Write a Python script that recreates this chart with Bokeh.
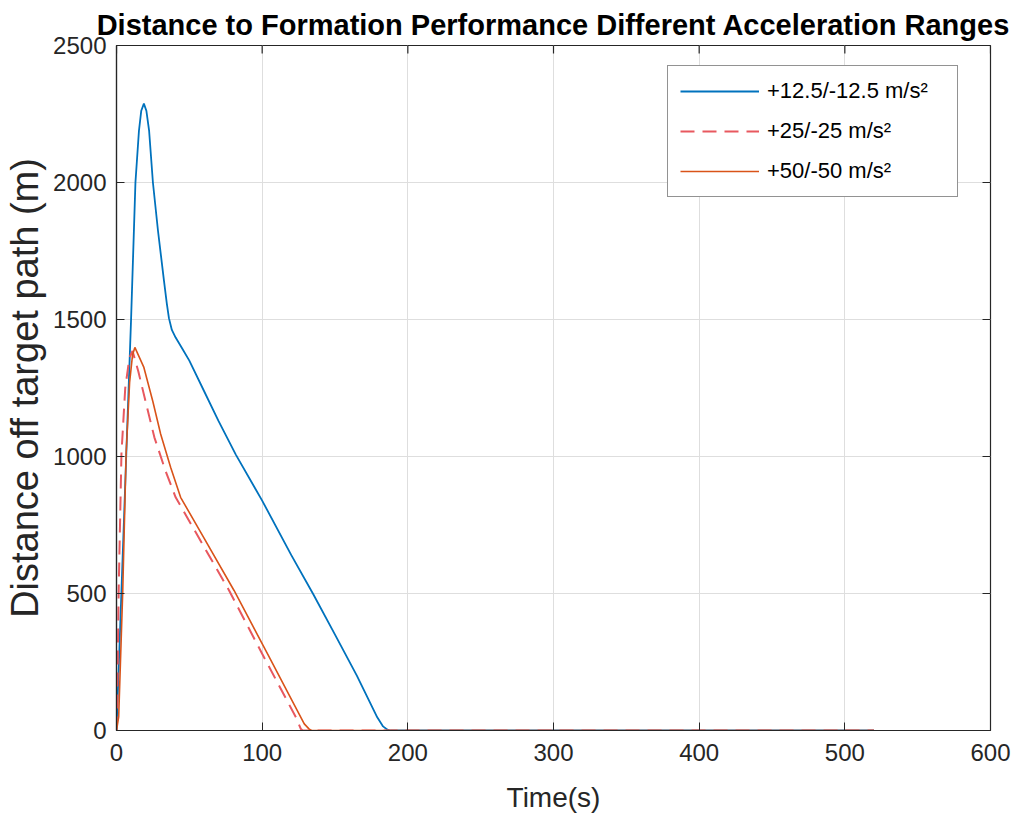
import math
from bokeh.plotting import figure
from bokeh.models import FixedTicker, Legend, LegendItem
from bokeh.embed import file_html
from bokeh.resources import INLINE

# ---- data ----
t_a125 = [0, 4, 8.5, 10, 13, 15.4, 17, 18.8, 20.5, 22.4, 25, 28.5, 32.6, 34.5, 36, 38, 40.6,
          45, 50, 60, 70, 82, 100, 120, 135, 150, 165, 179, 183, 186, 188, 520]
d_a125 = [0, 600, 1276, 1500, 2000, 2188, 2262, 2288, 2262, 2188, 2000, 1823, 1641, 1560, 1505, 1462, 1434,
          1395, 1350, 1240, 1130, 1006, 839, 640, 498, 350, 200, 48, 15, 3, 0, 0]

t_a25 = [0, 0.6, 1.5, 3.4, 6, 8.9, 11, 15, 20, 26, 33.5, 40.6, 50, 60, 77.3, 100, 123.2, 126.6, 128, 520]
d_a25 = [0, 150, 511, 1010, 1250, 1361, 1385, 1310, 1200, 1070, 950, 851, 764, 671, 511, 280, 48, 5, 0, 0]

t_a50 = [0, 1.5, 4.3, 6.6, 9, 11, 12.6, 18.8, 25, 30.3, 37.2, 44, 60, 80.7, 103.7, 128.9, 132.3, 134, 520]
d_a50 = [0, 50, 511, 1010, 1270, 1370, 1398, 1325, 1200, 1082, 960, 851, 703, 511, 280, 24, 5, 0, 0]

labels = ["+12.5/-12.5 m/s\u00b2", "+25/-25 m/s\u00b2", "+50/-50 m/s\u00b2"]
x_ticks = [0, 100, 200, 300, 400, 500, 600]
y_ticks = [0, 500, 1000, 1500, 2000, 2500]

title_text = "Distance to Formation Performance Different Acceleration Ranges"
x_label = "Time(s)"
y_label = "Distance off target path (m)"

FONT = "Liberation Sans"
AX = "#262626"

p = figure(frame_width=874, frame_height=685,
           x_range=(x_ticks[0], x_ticks[-1]), y_range=(y_ticks[0], y_ticks[-1]),
           min_border_left=116, min_border_right=29,
           min_border_top=45, min_border_bottom=87,
           output_backend="svg", toolbar_location=None,
           title=title_text)

p.title.text_font = FONT
p.title.text_font_size = "29px"
p.title.text_font_style = "bold"
p.title.text_color = "#000000"
p.title.align = "center"
p.title.vertical_align = "top"
p.title.standoff = 6

p.background_fill_color = "white"
p.border_fill_color = "white"
p.outline_line_color = AX
p.outline_line_width = 1.2

for ax, lab in ((p.xaxis[0], x_label), (p.yaxis[0], y_label)):
    ax.axis_label = lab
    ax.axis_label_text_font = FONT
    ax.axis_label_text_font_style = "normal"
    ax.axis_label_text_color = AX
    ax.major_label_text_font = FONT
    ax.major_label_text_font_size = "24px"
    ax.major_label_text_color = AX
    ax.axis_line_color = AX
    ax.axis_line_width = 1.2
    ax.major_tick_in = 8
    ax.major_tick_out = 0
    ax.major_tick_line_color = AX
    ax.minor_tick_line_color = None

p.xaxis[0].axis_label_text_font_size = "28px"
p.yaxis[0].axis_label_text_font_size = "38px"
p.xaxis[0].ticker = FixedTicker(ticks=x_ticks)
p.yaxis[0].ticker = FixedTicker(ticks=y_ticks)
p.xaxis[0].major_label_standoff = 13
p.yaxis[0].major_label_standoff = 10
p.xaxis[0].axis_label_standoff = 18
p.yaxis[0].axis_label_standoff = 4

# inward ticks on the top and right edges of the box (MATLAB "box on")
p.ray(x=x_ticks, y=[y_ticks[-1]] * len(x_ticks), length=8, length_units="screen",
      angle=-math.pi / 2, line_color=AX, line_width=1.2)
p.ray(x=[x_ticks[-1]] * len(y_ticks), y=y_ticks, length=8, length_units="screen",
      angle=math.pi, line_color=AX, line_width=1.2)

p.xgrid.ticker = FixedTicker(ticks=x_ticks)
p.ygrid.ticker = FixedTicker(ticks=y_ticks)
p.grid.grid_line_color = "#dedede"
p.grid.grid_line_width = 1

r1 = p.line(t_a125, d_a125, line_color="#0072BD", line_width=1.8)
r2 = p.line(t_a25, d_a25, line_color="#E8585F", line_width=2.0, line_dash="14 8")
r3 = p.line(t_a50, d_a50, line_color="#D95319", line_width=1.6)

legend = Legend(items=[LegendItem(label=labels[0], renderers=[r1]),
                       LegendItem(label=labels[1], renderers=[r2]),
                       LegendItem(label=labels[2], renderers=[r3])],
                location=(551, 533))
legend.margin = 0
legend.padding = 12
legend.spacing = 14
legend.glyph_width = 79
legend.glyph_height = 26
legend.label_height = 26
legend.label_width = 178
legend.label_standoff = 8
legend.label_text_font = FONT
legend.label_text_font_size = "22px"
legend.label_text_color = "#000000"
legend.border_line_color = AX
legend.border_line_width = 1.5
legend.background_fill_color = "white"
legend.background_fill_alpha = 1.0
p.add_layout(legend)

open("out.html", "w").write(file_html(p, INLINE))
